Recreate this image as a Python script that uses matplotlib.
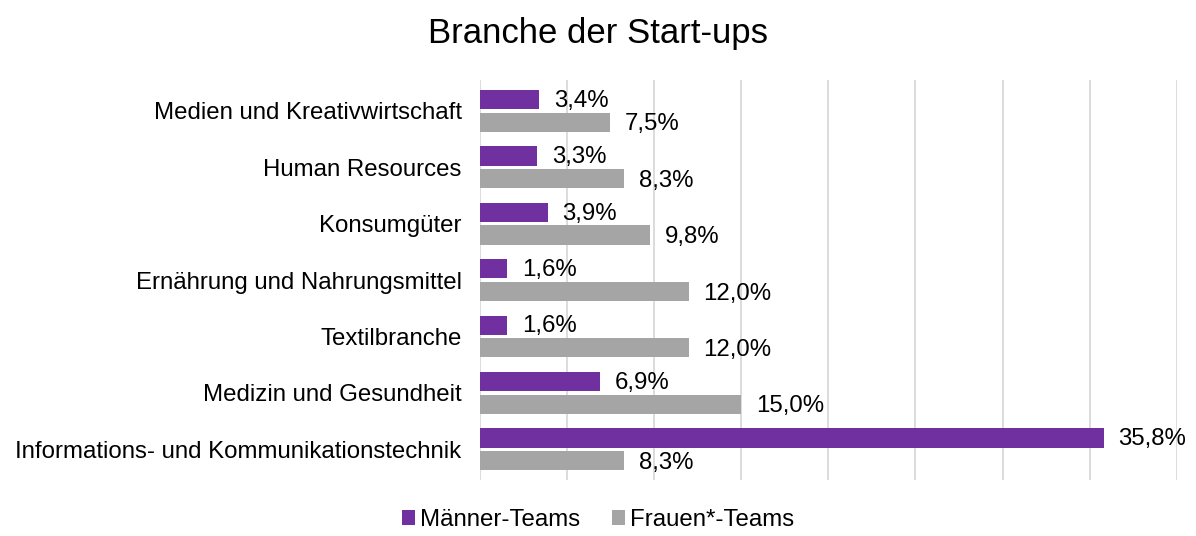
import numpy as np
import matplotlib.pyplot as plt

plt.rcParams['font.family'] = ['Liberation Sans', 'DejaVu Sans']

categories = ['Medien und Kreativwirtschaft', 'Human Resources', 'Konsumgüter',
              'Ernährung und Nahrungsmittel', 'Textilbranche', 'Medizin und Gesundheit',
              'Informations- und Kommunikationstechnik']
maenner = [3.4, 3.3, 3.9, 1.6, 1.6, 6.9, 35.8]
frauen = [7.5, 8.3, 9.8, 12.0, 12.0, 15.0, 8.3]

purple = '#7030a0'
grey = '#a5a5a5'

fig = plt.figure(figsize=(11.96, 5.36), dpi=100)
ax = fig.add_axes([0.401, 0.104, 0.583, 0.747])

y = np.arange(len(categories))
h = 0.34
ax.barh(y - 0.2, maenner, height=h, color=purple, label='Männer-Teams', zorder=3)
ax.barh(y + 0.2, frauen, height=h, color=grey, label='Frauen*-Teams', zorder=3)

def fmt(v):
    return ('%.1f' % v).replace('.', ',') + '%'

fs = 17.3
for yi, v in zip(y, maenner):
    ax.text(v + 0.85, yi - 0.18, fmt(v), va='center', ha='left', fontsize=fs)
for yi, v in zip(y, frauen):
    ax.text(v + 0.85, yi + 0.24, fmt(v), va='center', ha='left', fontsize=fs)

ax.set_xlim(0, 40)
ax.set_ylim(6.55, -0.55)
ax.set_xticks(np.arange(0, 41, 5))
ax.set_xticklabels([])
ax.tick_params(axis='x', length=0)
ax.set_yticks(y)
ax.set_yticklabels(categories, fontsize=fs)
ax.tick_params(axis='y', length=0, pad=13)
ax.grid(axis='x', color='#d9d9d9', linewidth=1.3, zorder=0)
for s in ax.spines.values():
    s.set_visible(False)

fig.text(0.5, 0.937, 'Branche der Start-ups', ha='center', va='center', fontsize=25)
fig.legend(loc='center', bbox_to_anchor=(0.5, 0.03), ncol=2, frameon=False,
           fontsize=fs, handlelength=0.55, handleheight=0.55, handletextpad=0.2,
           columnspacing=1.3, borderpad=0.1)

fig.savefig('out.png', dpi=100)
